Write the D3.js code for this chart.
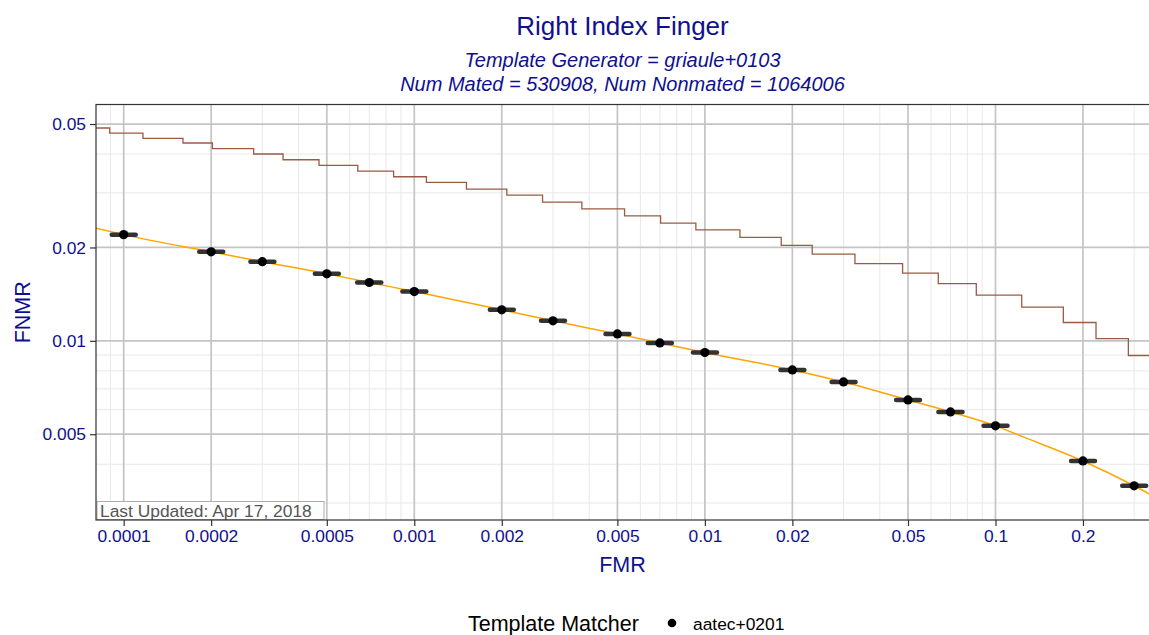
<!DOCTYPE html>
<html>
<head>
<meta charset="utf-8">
<script src="https://cdn.jsdelivr.net/npm/d3@7"></script>
<style>
  body { margin: 0; background: #fff; }
  svg { display: block; font-family: "Liberation Sans", Arial, sans-serif; }
</style>
</head>
<body>
<div id="chart"></div>
<script>
// operating points with FMR confidence bars
const fmrPoints = [0.0001, 0.0002, 0.0003, 0.0005, 0.0007, 0.001, 0.002, 0.003, 0.005, 0.007, 0.01, 0.02, 0.03, 0.05, 0.07, 0.1, 0.2, 0.3];
const fnmrPoints = [0.0220, 0.01936, 0.0180, 0.01645, 0.01542, 0.01442, 0.01259, 0.0116, 0.01053, 0.00985, 0.00917, 0.00806, 0.00737, 0.00645, 0.0059, 0.00532, 0.0041, 0.00341];
const fmrLow = [0.000091, 0.000182, 0.000273, 0.000455, 0.000636, 0.00091, 0.00182, 0.00273, 0.00455, 0.00636, 0.0091, 0.0182, 0.0273, 0.0455, 0.0636, 0.091, 0.182, 0.273];
const fmrHigh = [0.00011, 0.00022, 0.00033, 0.00055, 0.00077, 0.0011, 0.0022, 0.0033, 0.0055, 0.0077, 0.011, 0.022, 0.033, 0.055, 0.077, 0.11, 0.22, 0.33];

// DET curve (orange)
const curveFmr = [0.0000803, 0.0001, 0.0002, 0.0003, 0.0005, 0.0007, 0.001, 0.002, 0.003, 0.005, 0.007, 0.01, 0.02, 0.03, 0.05, 0.07, 0.1, 0.124, 0.2, 0.3, 0.3402];
const curveFnmr = [0.02309, 0.0220, 0.01936, 0.0180, 0.01645, 0.01542, 0.01442, 0.01259, 0.0116, 0.01053, 0.00985, 0.00917, 0.00806, 0.00737, 0.00645, 0.0059, 0.00532, 0.00491, 0.0041, 0.00341, 0.00320];

// reference step curve (brown)
const stepFmr = [0.0000803, 0.0000895, 0.0001165, 0.000160, 0.000202, 0.000280, 0.0003535, 0.000470, 0.000639, 0.000849, 0.001101, 0.001512, 0.002082, 0.002763, 0.003773, 0.005292, 0.00704, 0.00931, 0.0132, 0.01831, 0.02341, 0.03284, 0.0479, 0.06356, 0.0859, 0.1231, 0.1712, 0.2218, 0.2866, 0.3402];
const stepFnmr = [0.04855, 0.04677, 0.04493, 0.04343, 0.04163, 0.04002, 0.03836, 0.03677, 0.03527, 0.03381, 0.03241, 0.03086, 0.02951, 0.02801, 0.02665, 0.0253, 0.02396, 0.0228, 0.02157, 0.0203, 0.01904, 0.01775, 0.01654, 0.0153, 0.01404, 0.01285, 0.01146, 0.01017, 0.00897, 0.00897];

const xTicks = [0.0001, 0.0002, 0.0005, 0.001, 0.002, 0.005, 0.01, 0.02, 0.05, 0.1, 0.2];
const xTickLabels = ["0.0001", "0.0002", "0.0005", "0.001", "0.002", "0.005", "0.01", "0.02", "0.05", "0.1", "0.2"];
const yTicks = [0.005, 0.01, 0.02, 0.05];
const yTickLabels = ["0.005", "0.01", "0.02", "0.05"];

const title = "Right Index Finger";
const subtitle1 = "Template Generator = griaule+0103";
const subtitle2 = "Num Mated = 530908, Num Nonmated = 1064006";
const updated = "Last Updated: Apr 17, 2018";
const legendTitle = "Template Matcher";
const legendLabel = "aatec+0201";

const W = 1149, H = 635;
const pLeft = 96, pRight = 1150, pTop = 104.5, pBottom = 520;
const navy = "#10108f";

const svg = d3.select("#chart").append("svg")
    .attr("width", W)
    .attr("height", H);

const x = d3.scaleLog().domain([0.0000803, 0.3402]).range([pLeft, pRight]);
const y = d3.scaleLog().domain([0.002645, 0.0578]).range([pBottom, pTop]);

// minor grid: 1..9 multiples that are not majors
function minors(domain, majors) {
    const out = [];
    for (let e = -6; e <= 0; e++) {
        for (let m = 1; m <= 9; m++) {
            const v = +(m * Math.pow(10, e)).toPrecision(3);
            if (v >= domain[0] && v <= domain[1] && !majors.some(t => Math.abs(t - v) / v < 1e-6)) out.push(v);
        }
    }
    return out;
}

svg.append("defs").append("clipPath").attr("id", "clip")
    .append("rect")
    .attr("x", pLeft).attr("y", pTop)
    .attr("width", pRight - pLeft).attr("height", pBottom - pTop);

const grid = svg.append("g");
grid.selectAll(".xminor").data(minors(x.domain(), xTicks)).join("line")
    .attr("x1", d => x(d)).attr("x2", d => x(d))
    .attr("y1", pTop).attr("y2", pBottom)
    .attr("stroke", "#e8e8e8").attr("stroke-width", 1);
grid.selectAll(".yminor").data(minors(y.domain(), yTicks)).join("line")
    .attr("x1", pLeft).attr("x2", pRight)
    .attr("y1", d => y(d)).attr("y2", d => y(d))
    .attr("stroke", "#e8e8e8").attr("stroke-width", 1);
grid.selectAll(".xmajor").data(xTicks).join("line")
    .attr("x1", d => x(d)).attr("x2", d => x(d))
    .attr("y1", pTop).attr("y2", pBottom)
    .attr("stroke", "#c4c4c4").attr("stroke-width", 1.7);
grid.selectAll(".ymajor").data(yTicks).join("line")
    .attr("x1", pLeft).attr("x2", pRight)
    .attr("y1", d => y(d)).attr("y2", d => y(d))
    .attr("stroke", "#c4c4c4").attr("stroke-width", 1.7);

const plot = svg.append("g").attr("clip-path", "url(#clip)");

const stepLine = d3.line()
    .x(d => x(d[0]))
    .y(d => y(d[1]))
    .curve(d3.curveStepAfter);
plot.append("path")
    .datum(stepFmr.map((f, i) => [f, stepFnmr[i]]))
    .attr("fill", "none")
    .attr("stroke", "#9c5a45")
    .attr("stroke-width", 1.3)
    .attr("d", stepLine);

const detLine = d3.line()
    .x(d => x(d[0]))
    .y(d => y(d[1]))
    .curve(d3.curveMonotoneX);
plot.append("path")
    .datum(curveFmr.map((f, i) => [f, curveFnmr[i]]))
    .attr("fill", "none")
    .attr("stroke", "#ffa500")
    .attr("stroke-width", 1.5)
    .attr("d", detLine);

plot.selectAll(".err").data(fmrPoints).join("line")
    .attr("x1", (d, i) => x(fmrLow[i]))
    .attr("x2", (d, i) => x(fmrHigh[i]))
    .attr("y1", (d, i) => y(fnmrPoints[i]))
    .attr("y2", (d, i) => y(fnmrPoints[i]))
    .attr("stroke", "#333")
    .attr("stroke-width", 4.5)
    .attr("stroke-linecap", "round");

plot.selectAll(".pt").data(fmrPoints).join("circle")
    .attr("cx", d => x(d))
    .attr("cy", (d, i) => y(fnmrPoints[i]))
    .attr("r", 4.6)
    .attr("fill", "#000");

// last updated label
const lbl = svg.append("g");
lbl.append("rect")
    .attr("x", pLeft + 1).attr("y", 501.5)
    .attr("width", 227).attr("height", 18)
    .attr("fill", "#fff")
    .attr("stroke", "#9a9a9a")
    .attr("stroke-width", 0.8);
lbl.append("text")
    .attr("x", pLeft + 4).attr("y", 516.5)
    .attr("fill", "#555")
    .attr("font-size", 17.4)
    .text(updated);

// panel border
svg.append("rect")
    .attr("x", pLeft).attr("y", pTop)
    .attr("width", pRight - pLeft).attr("height", pBottom - pTop)
    .attr("fill", "none")
    .attr("stroke", "#333")
    .attr("stroke-width", 1.2);

// axes
const xAxis = svg.append("g").attr("transform", `translate(0,${pBottom})`)
    .call(d3.axisBottom(x).tickValues(xTicks).tickFormat((d, i) => xTickLabels[i]).tickSize(6).tickPadding(4));
const yAxis = svg.append("g").attr("transform", `translate(${pLeft},0)`)
    .call(d3.axisLeft(y).tickValues(yTicks).tickFormat((d, i) => yTickLabels[i]).tickSize(6).tickPadding(4));
[xAxis, yAxis].forEach(a => {
    a.select(".domain").remove();
    a.selectAll(".tick line").attr("stroke", "#333").attr("stroke-width", 1.2);
    a.selectAll(".tick text")
        .attr("fill", navy)
        .attr("font-size", 17.4)
        .attr("font-family", "Liberation Sans, Arial, sans-serif");
});

// titles
svg.append("text")
    .attr("x", (pLeft + 1149) / 2).attr("y", 35)
    .attr("text-anchor", "middle")
    .attr("fill", navy).attr("font-size", 26)
    .text(title);
svg.append("text")
    .attr("x", (pLeft + 1149) / 2).attr("y", 67)
    .attr("text-anchor", "middle")
    .attr("fill", navy).attr("font-size", 20).attr("font-style", "italic")
    .text(subtitle1);
svg.append("text")
    .attr("x", (pLeft + 1149) / 2).attr("y", 91)
    .attr("text-anchor", "middle")
    .attr("fill", navy).attr("font-size", 20).attr("font-style", "italic")
    .text(subtitle2);

svg.append("text")
    .attr("x", (pLeft + 1149) / 2).attr("y", 572)
    .attr("text-anchor", "middle")
    .attr("fill", navy).attr("font-size", 21.5)
    .text("FMR");
svg.append("text")
    .attr("transform", `translate(30,${(pTop + pBottom) / 2}) rotate(-90)`)
    .attr("text-anchor", "middle")
    .attr("fill", navy).attr("font-size", 21.5)
    .text("FNMR");

// legend
const legend = svg.append("g");
legend.append("text")
    .attr("x", 468).attr("y", 631)
    .attr("fill", "#000").attr("font-size", 21.5)
    .text(legendTitle);
legend.append("circle")
    .attr("cx", 672).attr("cy", 623)
    .attr("r", 4.3).attr("fill", "#000");
legend.append("text")
    .attr("x", 693).attr("y", 630)
    .attr("fill", "#000").attr("font-size", 17.4)
    .text(legendLabel);
</script>
</body>
</html>
